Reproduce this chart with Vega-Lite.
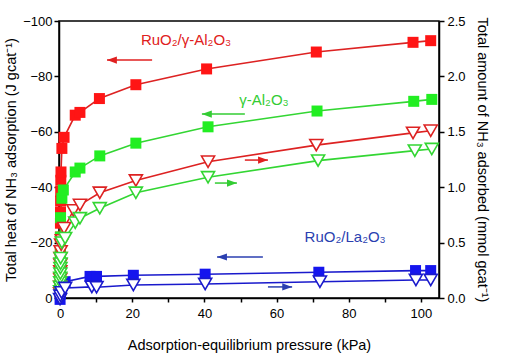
{
  "$schema": "https://vega.github.io/schema/vega-lite/v6.json",
  "width": 380,
  "height": 277,
  "autosize": {"type": "none"},
  "padding": {"left": 59, "top": 21, "right": 68, "bottom": 61},
  "background": "white",
  "config": {
    "font": "Liberation Sans",
    "view": {"stroke": "black", "strokeWidth": 1.5},
    "axis": {
      "domainColor": "black", "domainWidth": 1.5,
      "tickColor": "black", "tickWidth": 1.5, "tickSize": 5,
      "labelFont": "Liberation Sans", "labelFontSize": 13, "labelColor": "black",
      "titleFont": "Liberation Sans", "titleFontSize": 14.5, "titleFontWeight": "normal", "titleColor": "black",
      "grid": false
    }
  },
  "datasets": {
    "heat": [
      {"s": "RuO2/γ-Al2O3", "p": 0, "v": -2},
      {"s": "RuO2/γ-Al2O3", "p": 0.02, "v": -7},
      {"s": "RuO2/γ-Al2O3", "p": 0.04, "v": -12},
      {"s": "RuO2/γ-Al2O3", "p": 0.06, "v": -17},
      {"s": "RuO2/γ-Al2O3", "p": 0.08, "v": -22},
      {"s": "RuO2/γ-Al2O3", "p": 0.1, "v": -27},
      {"s": "RuO2/γ-Al2O3", "p": 0.12, "v": -31},
      {"s": "RuO2/γ-Al2O3", "p": 0.14, "v": -35},
      {"s": "RuO2/γ-Al2O3", "p": 0.17, "v": -38.5},
      {"s": "RuO2/γ-Al2O3", "p": 0.2, "v": -42.5},
      {"s": "RuO2/γ-Al2O3", "p": 0.25, "v": -45.5},
      {"s": "RuO2/γ-Al2O3", "p": 0.5, "v": -54},
      {"s": "RuO2/γ-Al2O3", "p": 1.1, "v": -58},
      {"s": "RuO2/γ-Al2O3", "p": 4.2, "v": -66},
      {"s": "RuO2/γ-Al2O3", "p": 5.5, "v": -67},
      {"s": "RuO2/γ-Al2O3", "p": 10.9, "v": -72},
      {"s": "RuO2/γ-Al2O3", "p": 21, "v": -77},
      {"s": "RuO2/γ-Al2O3", "p": 40.6, "v": -82.7},
      {"s": "RuO2/γ-Al2O3", "p": 71, "v": -88.8},
      {"s": "RuO2/γ-Al2O3", "p": 97.8, "v": -92.3},
      {"s": "RuO2/γ-Al2O3", "p": 102.7, "v": -92.9},
      {"s": "γ-Al2O3", "p": 0, "v": -3},
      {"s": "γ-Al2O3", "p": 0.02, "v": -6},
      {"s": "γ-Al2O3", "p": 0.04, "v": -9},
      {"s": "γ-Al2O3", "p": 0.06, "v": -13},
      {"s": "γ-Al2O3", "p": 0.08, "v": -17},
      {"s": "γ-Al2O3", "p": 0.1, "v": -22},
      {"s": "γ-Al2O3", "p": 0.13, "v": -29},
      {"s": "γ-Al2O3", "p": 0.5, "v": -36},
      {"s": "γ-Al2O3", "p": 0.9, "v": -39},
      {"s": "γ-Al2O3", "p": 4.2, "v": -45.5},
      {"s": "γ-Al2O3", "p": 5.5, "v": -46.9},
      {"s": "γ-Al2O3", "p": 11, "v": -51.3},
      {"s": "γ-Al2O3", "p": 21, "v": -55.9},
      {"s": "γ-Al2O3", "p": 41, "v": -61.8},
      {"s": "γ-Al2O3", "p": 71.2, "v": -67.5},
      {"s": "γ-Al2O3", "p": 98, "v": -71},
      {"s": "γ-Al2O3", "p": 103, "v": -71.7},
      {"s": "RuO2/La2O3", "p": 0, "v": 0.5},
      {"s": "RuO2/La2O3", "p": 0.1, "v": -1.5},
      {"s": "RuO2/La2O3", "p": 0.3, "v": -3},
      {"s": "RuO2/La2O3", "p": 0.6, "v": -4.5},
      {"s": "RuO2/La2O3", "p": 1.4, "v": -5.9},
      {"s": "RuO2/La2O3", "p": 8.3, "v": -7.8},
      {"s": "RuO2/La2O3", "p": 10.1, "v": -7.8},
      {"s": "RuO2/La2O3", "p": 20.3, "v": -8.2},
      {"s": "RuO2/La2O3", "p": 40.2, "v": -8.6},
      {"s": "RuO2/La2O3", "p": 71.7, "v": -9.3},
      {"s": "RuO2/La2O3", "p": 98.5, "v": -9.9},
      {"s": "RuO2/La2O3", "p": 102.7, "v": -9.9}
    ],
    "amount": [
      {"s": "RuO2/γ-Al2O3", "p": 0, "v": 0.04},
      {"s": "RuO2/γ-Al2O3", "p": 0.02, "v": 0.1},
      {"s": "RuO2/γ-Al2O3", "p": 0.04, "v": 0.17},
      {"s": "RuO2/γ-Al2O3", "p": 0.06, "v": 0.24},
      {"s": "RuO2/γ-Al2O3", "p": 0.08, "v": 0.3},
      {"s": "RuO2/γ-Al2O3", "p": 0.1, "v": 0.36},
      {"s": "RuO2/γ-Al2O3", "p": 0.15, "v": 0.42},
      {"s": "RuO2/γ-Al2O3", "p": 0.3, "v": 0.48},
      {"s": "RuO2/γ-Al2O3", "p": 0.5, "v": 0.52},
      {"s": "RuO2/γ-Al2O3", "p": 1.1, "v": 0.63},
      {"s": "RuO2/γ-Al2O3", "p": 3.7, "v": 0.79},
      {"s": "RuO2/γ-Al2O3", "p": 5.5, "v": 0.84},
      {"s": "RuO2/γ-Al2O3", "p": 11, "v": 0.95},
      {"s": "RuO2/γ-Al2O3", "p": 21, "v": 1.06},
      {"s": "RuO2/γ-Al2O3", "p": 41, "v": 1.23},
      {"s": "RuO2/γ-Al2O3", "p": 71, "v": 1.38},
      {"s": "RuO2/γ-Al2O3", "p": 97.8, "v": 1.49},
      {"s": "RuO2/γ-Al2O3", "p": 102.7, "v": 1.51},
      {"s": "γ-Al2O3", "p": 0, "v": 0.06},
      {"s": "γ-Al2O3", "p": 0.02, "v": 0.1},
      {"s": "γ-Al2O3", "p": 0.04, "v": 0.14},
      {"s": "γ-Al2O3", "p": 0.06, "v": 0.18},
      {"s": "γ-Al2O3", "p": 0.08, "v": 0.22},
      {"s": "γ-Al2O3", "p": 0.1, "v": 0.27},
      {"s": "γ-Al2O3", "p": 0.12, "v": 0.31},
      {"s": "γ-Al2O3", "p": 0.15, "v": 0.36},
      {"s": "γ-Al2O3", "p": 0.5, "v": 0.5},
      {"s": "γ-Al2O3", "p": 1.4, "v": 0.54},
      {"s": "γ-Al2O3", "p": 4.2, "v": 0.68},
      {"s": "γ-Al2O3", "p": 5.5, "v": 0.72},
      {"s": "γ-Al2O3", "p": 11, "v": 0.81},
      {"s": "γ-Al2O3", "p": 21, "v": 0.95},
      {"s": "γ-Al2O3", "p": 41, "v": 1.09},
      {"s": "γ-Al2O3", "p": 71.5, "v": 1.24},
      {"s": "γ-Al2O3", "p": 98.3, "v": 1.33},
      {"s": "γ-Al2O3", "p": 103, "v": 1.345},
      {"s": "RuO2/La2O3", "p": 0, "v": -0.01},
      {"s": "RuO2/La2O3", "p": 0.1, "v": 0.02},
      {"s": "RuO2/La2O3", "p": 0.4, "v": 0.05},
      {"s": "RuO2/La2O3", "p": 1.4, "v": 0.09},
      {"s": "RuO2/La2O3", "p": 8.8, "v": 0.1},
      {"s": "RuO2/La2O3", "p": 10.1, "v": 0.097},
      {"s": "RuO2/La2O3", "p": 20.3, "v": 0.117},
      {"s": "RuO2/La2O3", "p": 40.2, "v": 0.126},
      {"s": "RuO2/La2O3", "p": 72, "v": 0.147},
      {"s": "RuO2/La2O3", "p": 98.6, "v": 0.162},
      {"s": "RuO2/La2O3", "p": 102.7, "v": 0.162}
    ],
    "labels": [
      {"s": "RuO2/γ-Al2O3", "t": "RuO₂/γ-Al₂O₃", "p": 34.9, "v": -93.1},
      {"s": "γ-Al2O3", "t": "γ-Al₂O₃", "p": 56.5, "v": -71.5},
      {"s": "RuO2/La2O3", "t": "RuO₂/La₂O₃", "p": 79, "v": -22}
    ],
    "arrows": [
      {"s": "RuO2/γ-Al2O3", "p": 25.5, "tip": 13, "v": -85.9, "dir": "left"},
      {"s": "γ-Al2O3", "p": 51.2, "tip": 39.3, "v": -66.4, "dir": "left"},
      {"s": "RuO2/γ-Al2O3", "p": 51.2, "tip": 57.6, "v": -49.8, "dir": "right"},
      {"s": "γ-Al2O3", "p": 42.9, "tip": 49, "v": -41.5, "dir": "right"},
      {"s": "RuO2/La2O3", "p": 56.2, "tip": 43.5, "v": -14.8, "dir": "left"},
      {"s": "RuO2/La2O3", "p": 57.6, "tip": 64.3, "v": -4.0, "dir": "right"}
    ]
  },
  "encoding": {
    "x": {
      "field": "p", "type": "quantitative",
      "scale": {"domain": [-0.3, 105], "nice": false, "zero": false},
      "axis": {
        "values": [0, 10, 20, 30, 40, 50, 60, 70, 80, 90, 100],
        "labelExpr": "datum.value % 20 === 0 ? datum.label : ''",
        "tickSize": 4, "labelPadding": 5,
        "title": "Adsorption-equilibrium pressure (kPa)", "titlePadding": 18
      }
    }
  },
  "layer": [
    {
      "layer": [
        {
          "data": {"name": "heat"},
          "mark": {"type": "line", "strokeWidth": 1.6},
          "encoding": {
            "stroke": {"field": "s", "type": "nominal", "legend": null,
              "scale": {"domain": ["RuO2/γ-Al2O3", "γ-Al2O3", "RuO2/La2O3"], "range": ["#dd2222", "#33d633", "#1a1acc"]}}
          }
        },
        {
          "data": {"name": "heat"},
          "mark": {"type": "point", "shape": "square", "filled": true, "size": 121, "opacity": 1, "strokeWidth": 0},
          "encoding": {
            "fill": {"field": "s", "type": "nominal", "legend": null,
              "scale": {"domain": ["RuO2/γ-Al2O3", "γ-Al2O3", "RuO2/La2O3"], "range": ["#ff1515", "#22ee22", "#1515ee"]}}
          }
        },
        {
          "data": {"name": "labels"},
          "mark": {"type": "text", "fontSize": 15, "align": "center", "baseline": "middle", "font": "Liberation Sans"},
          "encoding": {
            "text": {"field": "t"},
            "color": {"field": "s", "type": "nominal", "legend": null,
              "scale": {"domain": ["RuO2/γ-Al2O3", "γ-Al2O3", "RuO2/La2O3"], "range": ["#e02020", "#33cc33", "#2b3fb0"]}}
          }
        },
        {
          "data": {"name": "arrows"},
          "mark": {"type": "rule", "strokeWidth": 1.5},
          "encoding": {
            "x2": {"field": "tip"},
            "color": {"field": "s", "type": "nominal", "legend": null}
          }
        },
        {
          "data": {"name": "arrows"},
          "mark": {"type": "point", "filled": true, "size": 81, "opacity": 1},
          "encoding": {
            "x": {"field": "tip", "type": "quantitative"},
            "color": {"field": "s", "type": "nominal", "legend": null},
            "shape": {"field": "dir", "type": "nominal", "legend": null,
              "scale": {"domain": ["left", "right"], "range": ["M0,0L2.2,-0.8L2.2,0.8Z", "M0,0L-2.2,-0.8L-2.2,0.8Z"]}}
          }
        }
      ],
      "encoding": {
        "y": {
          "field": "v", "type": "quantitative",
          "scale": {"domain": [0, -100], "nice": false, "zero": false},
          "axis": {
            "orient": "left", "values": [0, -20, -40, -60, -80, -100],
            "labelPadding": 2,
            "title": "Total heat of NH₃ adsorption (J gcat⁻¹)", "titlePadding": 4
          }
        }
      }
    },
    {
      "data": {"name": "amount"},
      "layer": [
        {
          "mark": {"type": "line", "strokeWidth": 1.6},
          "encoding": {
            "stroke": {"field": "s", "type": "nominal", "legend": null}
          }
        },
        {
          "mark": {"type": "point", "shape": "triangle-down", "filled": false, "fill": "white", "fillOpacity": 1, "size": 170, "opacity": 1, "strokeWidth": 1.6},
          "encoding": {
            "stroke": {"field": "s", "type": "nominal", "legend": null}
          }
        }
      ],
      "encoding": {
        "y": {
          "field": "v", "type": "quantitative",
          "scale": {"domain": [0, 2.5], "nice": false, "zero": false},
          "axis": {
            "orient": "right", "values": [0, 0.5, 1, 1.5, 2, 2.5], "format": ".1f",
            "labelPadding": 3,
            "title": "Total amount of NH₃ adsorbed (mmol gcat⁻¹)", "titlePadding": 9
          }
        }
      }
    }
  ],
  "resolve": {"scale": {"y": "independent"}}
}
